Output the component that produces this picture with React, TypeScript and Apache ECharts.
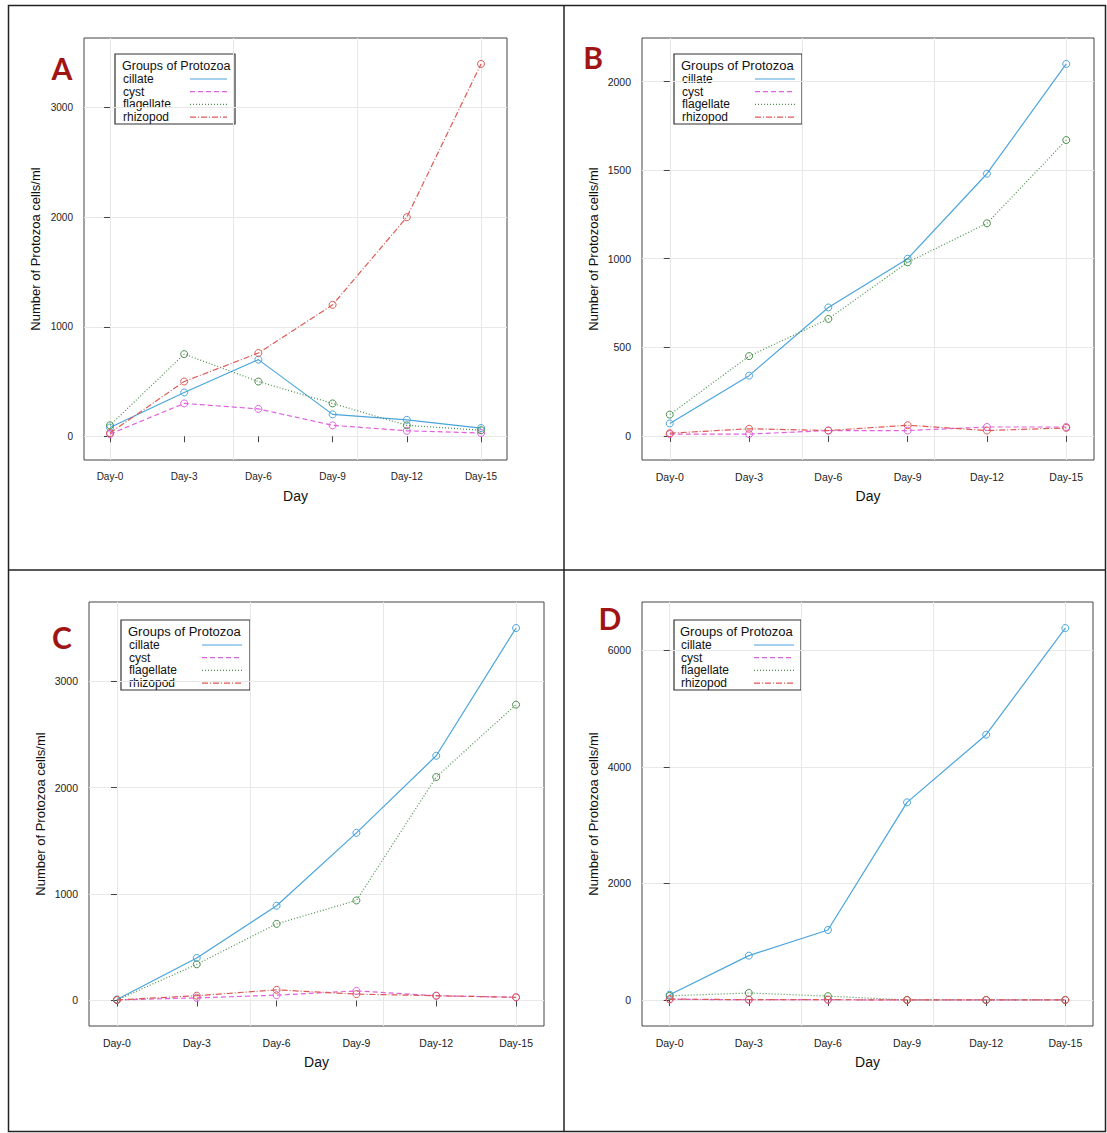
import React, { useEffect, useRef } from "react";
import * as echarts from "echarts";

// ---------- data ----------
const days = [0, 3, 6, 9, 12, 15];
const dayLabels = ["Day-0", "Day-3", "Day-6", "Day-9", "Day-12", "Day-15"];
const groups = ["cillate", "cyst", "flagellate", "rhizopod"];
const panelLetters = ["A", "B", "C", "D"];
const xGridDays = [0, 5, 10, 15];

const aCillate = [80, 400, 700, 200, 150, 75];
const aCyst = [20, 300, 250, 100, 50, 30];
const aFlagellate = [100, 750, 500, 300, 100, 55];
const aRhizopod = [30, 500, 760, 1200, 2000, 3400];

const bCillate = [70, 340, 725, 1000, 1480, 2100];
const bCyst = [10, 10, 30, 30, 50, 50];
const bFlagellate = [120, 450, 660, 980, 1200, 1670];
const bRhizopod = [15, 40, 30, 60, 30, 45];

const cCillate = [10, 400, 890, 1575, 2300, 3500];
const cCyst = [5, 25, 50, 90, 45, 30];
const cFlagellate = [5, 340, 720, 940, 2100, 2780];
const cRhizopod = [5, 45, 100, 60, 45, 30];

const dCillate = [90, 760, 1200, 3390, 4550, 6380];
const dCyst = [10, 5, 5, 0, 0, 0];
const dFlagellate = [70, 120, 65, 0, 0, 0];
const dRhizopod = [15, 5, 5, 0, 0, 0];

const aTicks = [0, 1000, 2000, 3000];
const bTicks = [0, 500, 1000, 1500, 2000];
const cTicks = [0, 1000, 2000, 3000];
const dTicks = [0, 2000, 4000, 6000];

const panelSeries = [
  [aCillate, aCyst, aFlagellate, aRhizopod],
  [bCillate, bCyst, bFlagellate, bRhizopod],
  [cCillate, cCyst, cFlagellate, cRhizopod],
  [dCillate, dCyst, dFlagellate, dRhizopod],
];
const panelTicks = [aTicks, bTicks, cTicks, dTicks];

// ---------- styles / layout ----------
const colors = ["#4aa5dd", "#e060e0", "#4a8f4a", "#dc5a55"];
const dashes: any[] = ["solid", [5, 3], [1, 2], [6, 2, 1, 2]];

const grids = [
  { left: 84, top: 38, width: 423, height: 422 },
  { left: 642, top: 38, width: 452, height: 422 },
  { left: 89, top: 602, width: 455, height: 424 },
  { left: 642, top: 602, width: 451, height: 424 },
];
const letterPos = [
  [62, 68],
  [593, 57],
  [62, 637],
  [610, 618],
];
// legend box: x, y, w, h, text x, line x1, line x2, font size
const legendBoxes = [
  [115, 54, 120, 70, 122, 190, 227, 12.5],
  [674, 54, 128, 70, 681, 755, 795, 13],
  [121, 620, 129, 70, 128, 202, 242, 13],
  [674, 620, 127, 70, 680, 754, 794, 13],
];
const tickFont = [10, 10.5, 10.5, 10.5];
const FONT = "'Liberation Sans', Arial, sans-serif";

export default function App() {
  const ref = useRef<HTMLDivElement>(null);

  useEffect(() => {
    if (!ref.current) return;
    const chart = echarts.init(ref.current, undefined, { renderer: "svg" });

    const grid: any[] = [];
    const xAxis: any[] = [];
    const yAxis: any[] = [];
    const series: any[] = [];
    const graphic: any[] = [];

    panelSeries.forEach((sets, p) => {
      const g = grids[p];
      grid.push({
        ...g,
        show: true,
        borderColor: "#444",
        borderWidth: 1,
        backgroundColor: "transparent",
        containLabel: false,
        outerBoundsMode: "none",
      });
      const all = sets.flat();
      const lo = Math.min(...all);
      const hi = Math.max(...all);
      const ext = (hi - lo) * 0.07;
      const xlo = days[0] - (days[days.length - 1] - days[0]) * 0.07;
      const xhi = days[days.length - 1] + (days[days.length - 1] - days[0]) * 0.07;

      // main x axis with Day labels
      xAxis.push({
        type: "value",
        gridIndex: p,
        min: xlo,
        max: xhi,
        name: "Day",
        nameLocation: "middle",
        nameGap: 29,
        nameTextStyle: { fontFamily: FONT, fontSize: 14, color: "#111" },
        axisLine: { show: false },
        axisTick: { show: true, length: 6, lineStyle: { color: "#444" }, customValues: days },
        axisLabel: {
          customValues: days,
          margin: 11,
          fontFamily: FONT,
          fontSize: tickFont[p],
          color: "#222",
          formatter: (v: number) => {
            const i = days.indexOf(Math.round(v));
            return i >= 0 ? dayLabels[i] : "";
          },
        },
        splitLine: { show: false },
      });
      // helper x axis for vertical grid lines
      xAxis.push({
        type: "value",
        gridIndex: p,
        min: xlo,
        max: xhi,
        axisLine: { show: false },
        axisTick: { show: false, customValues: xGridDays },
        axisLabel: { show: false, customValues: xGridDays },
        splitLine: { show: true, lineStyle: { color: "#e8e8e8", width: 1 } },
      });
      yAxis.push({
        type: "value",
        gridIndex: p,
        min: lo - ext,
        max: hi + ext,
        name: "Number of Protozoa cells/ml",
        nameLocation: "middle",
        nameGap: 42,
        nameRotate: 90,
        nameTextStyle: { fontFamily: FONT, fontSize: 13, color: "#111" },
        axisLine: { show: false },
        axisTick: { show: true, length: 6, lineStyle: { color: "#444" }, customValues: panelTicks[p] },
        axisLabel: {
          customValues: panelTicks[p],
          margin: 11,
          fontFamily: FONT,
          fontSize: tickFont[p],
          color: "#222",
          formatter: (v: number) => String(v),
        },
        splitLine: { show: true, lineStyle: { color: "#e8e8e8", width: 1 } },
      });

      sets.forEach((vals, k) => {
        series.push({
          type: "line",
          name: groups[k],
          xAxisIndex: p * 2,
          yAxisIndex: p,
          data: days.map((d, i) => [d, vals[i]]),
          symbol: "circle",
          symbolSize: 7,
          showSymbol: true,
          clip: false,
          lineStyle: { color: colors[k], width: 1.2, type: dashes[k] },
          itemStyle: { color: "rgba(0,0,0,0)", borderColor: colors[k], borderWidth: 1 },
          emphasis: { disabled: true },
          z: 3 + k,
        });
      });

      // panel letter
      graphic.push({
        type: "text",
        x: letterPos[p][0],
        y: letterPos[p][1],
        style: {
          text: panelLetters[p],
          fontFamily: "Lato, 'Open Sans', sans-serif",
          fontWeight: "bold",
          fontSize: 30,
          fill: "#a01414",
          align: "center",
          verticalAlign: "middle",
        },
        z: 10,
      });

      // legend
      const [lx, ly, lw, lh, tx, l1, l2, fs] = legendBoxes[p];
      const itemFs = 12;
      const legendChildren: any[] = [
        {
          type: "rect",
          shape: { x: lx, y: ly, width: lw, height: lh },
          style: { fill: "#fff", stroke: "#333", lineWidth: 1.2 },
        },
        {
          type: "text",
          x: tx,
          y: ly + 11.5,
          style: {
            text: "Groups of Protozoa",
            fontFamily: FONT,
            fontSize: fs,
            lineHeight: 12,
            fill: "#111",
            align: "left",
            verticalAlign: "middle",
          },
        },
      ];
      groups.forEach((name, k) => {
        const yy = ly + 25 + k * 12.7;
        legendChildren.push({
          type: "text",
          x: tx + 1,
          y: yy,
          style: {
            text: name,
            fontFamily: FONT,
            fontSize: itemFs,
            lineHeight: 12,
            fill: "#111",
            align: "left",
            verticalAlign: "middle",
          },
        });
        legendChildren.push({
          type: "line",
          shape: { x1: l1, y1: yy, x2: l2, y2: yy },
          style: {
            stroke: colors[k],
            lineWidth: 1.2,
            lineDash: dashes[k] === "solid" ? null : dashes[k],
          },
        });
      });
      graphic.push({ type: "group", children: legendChildren, z: 20 });
    });

    // panel frame lines
    graphic.push({
      type: "rect",
      shape: { x: 8.5, y: 5.5, width: 1097, height: 1126 },
      style: { fill: "none", stroke: "#222", lineWidth: 1.5 },
      z: 30,
    });
    graphic.push({
      type: "line",
      shape: { x1: 564, y1: 5.5, x2: 564, y2: 1131.5 },
      style: { stroke: "#222", lineWidth: 1.5 },
      z: 30,
    });
    graphic.push({
      type: "line",
      shape: { x1: 8.5, y1: 570, x2: 1105.5, y2: 570 },
      style: { stroke: "#222", lineWidth: 1.5 },
      z: 30,
    });

    chart.setOption({
      animation: false,
      backgroundColor: "#fff",
      grid,
      xAxis,
      yAxis,
      series,
      graphic,
    });

    return () => chart.dispose();
  }, []);

  return (
    <div
      ref={ref}
      style={{ position: "absolute", left: 0, top: 0, width: 1107, height: 1133 }}
    />
  );
}
